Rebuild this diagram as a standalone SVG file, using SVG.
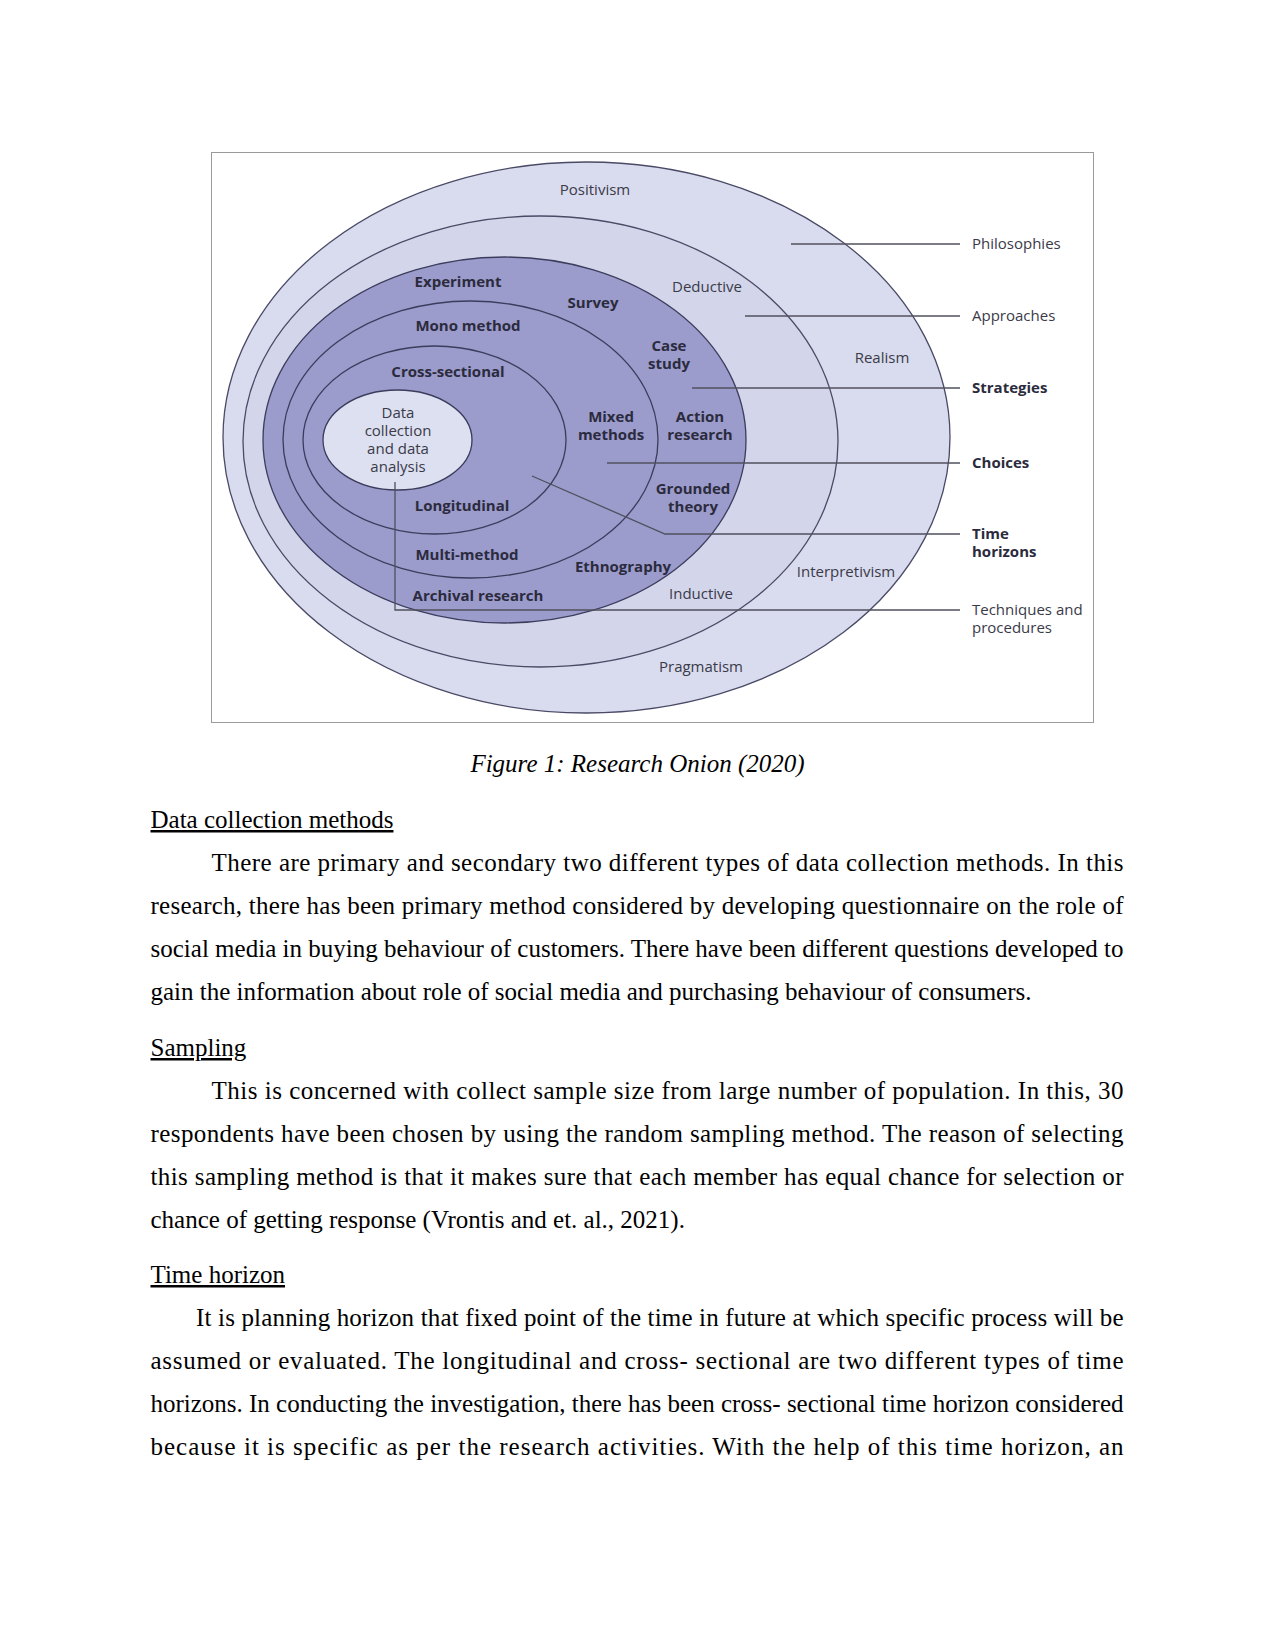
<svg xmlns="http://www.w3.org/2000/svg" width="1275" height="1650" viewBox="0 0 1275 1650">
<style>
.lt{fill:#d9dcee;stroke:#4a4a66;stroke-width:1.3}
.lt2{fill:#d3d6eb;stroke:#4a4a66;stroke-width:1.3}
.dk{fill:#9b9bcc;stroke:#3c3c5c;stroke-width:1.3}
.in{fill:#dde0f0;stroke:#3c3c5c;stroke-width:1.3}
.r{font-family:"Open Sans","Noto Sans",sans-serif;font-size:15px;font-weight:500;fill:#3a3a48;text-anchor:middle}
.b{font-family:"Open Sans","Noto Sans",sans-serif;font-size:15px;font-weight:700;fill:#2b2b3d;text-anchor:middle}
.ls{text-anchor:start}
.ld{fill:none;stroke:#50505e;stroke-width:1.3}
.body{font-family:"Liberation Serif","Times New Roman",serif;font-size:25px;fill:#000}
.h{text-decoration:underline}
</style>
<rect width="1275" height="1650" fill="#fff"/>
<rect x="211.5" y="152.5" width="882" height="570" fill="#fff" stroke="#9a9a9a" stroke-width="1"/>
<g id="philosophies">
<ellipse class="lt" cx="586.5" cy="437.5" rx="363.5" ry="275.5"/>
<text class="r" x="595" y="195">Positivism</text>
<text class="r" x="882" y="363">Realism</text>
<text class="r" x="846" y="577">Interpretivism</text>
<text class="r" x="701" y="672">Pragmatism</text>
</g>
<g id="approaches">
<ellipse class="lt2" cx="540.5" cy="441.5" rx="297.5" ry="225.5"/>
<text class="r" x="707" y="292">Deductive</text>
<text class="r" x="701" y="599">Inductive</text>
</g>
<g id="strategies">
<ellipse class="dk" cx="504.5" cy="440" rx="241.5" ry="183"/>
<text class="b" x="458" y="287">Experiment</text>
<text class="b" x="593" y="308">Survey</text>
<text class="b" x="669" y="351">Case</text>
<text class="b" x="669" y="369">study</text>
<text class="b" x="700" y="422">Action</text>
<text class="b" x="700" y="440">research</text>
<text class="b" x="693" y="494">Grounded</text>
<text class="b" x="693" y="512">theory</text>
<text class="b" x="623" y="572">Ethnography</text>
<text class="b" x="478" y="601">Archival research</text>
</g>
<g id="choices">
<ellipse class="dk" cx="470.5" cy="439.5" rx="187.5" ry="138.5"/>
<text class="b" x="468" y="331">Mono method</text>
<text class="b" x="611" y="422">Mixed</text>
<text class="b" x="611" y="440">methods</text>
<text class="b" x="467" y="560">Multi-method</text>
</g>
<g id="time-horizons">
<ellipse class="dk" cx="434.5" cy="440" rx="131.5" ry="94"/>
<text class="b" x="448" y="377">Cross-sectional</text>
<text class="b" x="462" y="511">Longitudinal</text>
</g>
<g id="data-collection">
<ellipse class="in" cx="397.5" cy="440" rx="74.5" ry="50"/>
<text class="r" x="398" y="418">Data</text>
<text class="r" x="398" y="436">collection</text>
<text class="r" x="398" y="454">and data</text>
<text class="r" x="398" y="472">analysis</text>
</g>
<g id="connectors">
<line class="ld" x1="791" y1="244" x2="960" y2="244"/>
<line class="ld" x1="745" y1="316" x2="960" y2="316"/>
<line class="ld" x1="692" y1="388" x2="960" y2="388"/>
<line class="ld" x1="607" y1="463" x2="960" y2="463"/>
<polyline class="ld" points="532,476 665,534 960,534"/>
<polyline class="ld" points="395,482 395,610 960,610"/>
</g>
<g id="legend">
<text class="r ls" x="972" y="249">Philosophies</text>
<text class="r ls" x="972" y="321">Approaches</text>
<text class="b ls" x="972" y="393">Strategies</text>
<text class="b ls" x="972" y="468">Choices</text>
<text class="b ls" x="972" y="539">Time</text>
<text class="b ls" x="972" y="557">horizons</text>
<text class="r ls" x="972" y="615">Techniques and</text>
<text class="r ls" x="972" y="633">procedures</text>
</g>
<g id="text">
<text class="body" x="637.5" y="772" text-anchor="middle" font-style="italic">Figure 1: Research Onion (2020)</text>
<text class="body h" x="150.5" y="828">Data collection methods</text>
<text class="body" x="211.5" y="871" textLength="912" lengthAdjust="spacing">There are primary and secondary two different types of data collection methods. In this</text>
<text class="body" x="150.5" y="914" textLength="973" lengthAdjust="spacing">research, there has been primary method considered by developing questionnaire on the role of</text>
<text class="body" x="150.5" y="957" textLength="973" lengthAdjust="spacing">social media in buying behaviour of customers. There have been different questions developed to</text>
<text class="body" x="150.5" y="1000">gain the information about role of social media and purchasing behaviour of consumers.</text>
<text class="body h" x="150.5" y="1056">Sampling</text>
<text class="body" x="211.5" y="1099" textLength="912" lengthAdjust="spacing">This is concerned with collect sample size from large number of population. In this, 30</text>
<text class="body" x="150.5" y="1142" textLength="973" lengthAdjust="spacing">respondents have been chosen by using the random sampling method. The reason of selecting</text>
<text class="body" x="150.5" y="1185" textLength="973" lengthAdjust="spacing">this sampling method is that it makes sure that each member has equal chance for selection or</text>
<text class="body" x="150.5" y="1228">chance of getting response (Vrontis and et. al., 2021).</text>
<text class="body h" x="150.5" y="1283">Time horizon</text>
<text class="body" x="196" y="1326" textLength="927.5" lengthAdjust="spacing">It is planning horizon that fixed point of the time in future at which specific process will be</text>
<text class="body" x="150.5" y="1369" textLength="973" lengthAdjust="spacing">assumed or evaluated. The longitudinal and cross- sectional are two different types of time</text>
<text class="body" x="150.5" y="1412" textLength="973" lengthAdjust="spacing">horizons. In conducting the investigation, there has been cross- sectional time horizon considered</text>
<text class="body" x="150.5" y="1455" textLength="973" lengthAdjust="spacing">because it is specific as per the research activities. With the help of this time horizon, an</text>
</g>
</svg>
